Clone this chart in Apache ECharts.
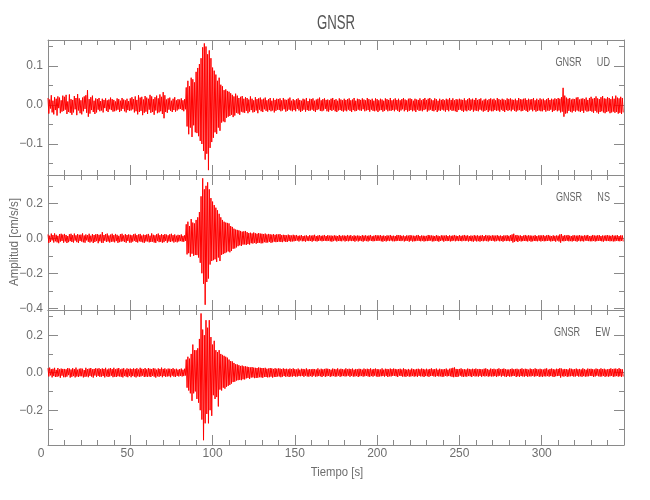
<!DOCTYPE html>
<html><head><meta charset="utf-8">
<script src="https://cdn.jsdelivr.net/npm/echarts@6/dist/echarts.min.js"></script>
<style>html,body{margin:0;padding:0;background:#fff}#c{width:650px;height:500px}</style>
</head><body><div id="c"></div><script>
// sample times: two values per second, starting at 0 s
const timeStart = 0, timeStep = 0.5;
// amplitudes in units of 0.001 cm/s/s (one row = 10 s)
const udMilli = [
18,-22,14,-9,25,-19,11,-24,20,-13,16,-27,22,-8,19,-21,12,-17,24,-15,
21,-12,26,-23,9,-18,27,-20,15,-25,13,-19,23,-11,18,-26,28,-14,17,-21,
12,-24,19,-16,22,-10,25,-20,38,-30,15,-22,20,-13,24,-18,11,-23,17,-19,
15,-12,18,-16,10,-14,16,-19,13,-8,17,-15,12,-18,14,-11,19,-13,15,-17,
13,-16,9,-14,17,-12,15,-18,11,-15,18,-10,14,-16,12,-19,16,-13,10,-15,
17,-14,20,-11,15,-19,22,-16,13,-24,25,-18,19,-15,21,-26,14,-20,23,-17,
19,-23,16,-12,26,-20,22,-18,15,-25,20,-14,24,-21,17,-19,27,-16,21,-23,
33,-34,25,-18,14,-20,17,-12,19,-15,11,-18,16,-13,20,-17,12,-14,15,-11,
14,-10,17,-13,12,-16,15,-11,45,-55,62,-75,48,-58,70,-82,66,-52,58,-70,
85,-72,95,-80,105,-92,120,-100,148,-118,158,-140,150,-125,130,-167,140,-110,120,-95,
96,-84,88,-70,78,-74,62,-58,70,-66,52,-45,48,-42,38,-44,40,-33,36,-30,
34,-28,30,-25,26,-31,22,-27,29,-20,24,-22,18,-25,21,-17,23,-19,16,-20,
20,-15,18,-21,14,-17,22,-13,16,-19,12,-18,20,-14,15,-21,17,-12,19,-16,
14,-18,16,-11,19,-15,12,-17,15,-13,18,-16,11,-14,17,-19,13,-15,16,-12,
15,-13,17,-16,12,-14,18,-11,14,-17,13,-15,16,-12,19,-14,11,-16,15,-13,
12,-16,15,-10,17,-14,13,-18,11,-15,16,-12,14,-17,18,-13,10,-15,16,-14,
15,-12,17,-15,11,-18,14,-13,16,-11,19,-15,12,-16,15,-14,17,-10,13,-16,
14,-17,12,-13,16,-15,18,-12,13,-16,15,-18,11,-14,17,-13,14,-15,12,-17,
16,-14,13,-16,15,-12,17,-15,12,-18,14,-13,18,-16,11,-15,16,-12,15,-14,
13,-15,17,-11,14,-16,12,-14,18,-13,15,-17,13,-12,16,-15,11,-16,17,-14,
15,-18,12,-14,16,-13,14,-17,11,-15,17,-12,15,-16,13,-14,18,-15,12,-13,
14,-16,17,-12,13,-15,16,-18,12,-14,15,-11,18,-16,14,-13,12,-17,16,-15,
17,-13,15,-16,11,-14,16,-18,14,-12,13,-15,17,-14,12,-16,15,-13,18,-11,
13,-17,16,-14,18,-12,14,-15,12,-16,17,-13,15,-18,11,-14,16,-15,13,-12,
15,-14,12,-17,16,-13,14,-16,18,-12,13,-15,17,-14,12,-16,15,-18,14,-13,
16,-12,14,-15,13,-18,17,-14,12,-16,15,-13,18,-15,14,-12,16,-17,13,-14,
18,-15,13,-16,15,-12,17,-14,11,-17,14,-15,16,-13,12,-18,15,-14,17,-16,
14,-16,16,-13,12,-15,18,-14,15,-17,13,-12,16,-15,14,-18,12,-13,17,-15,
15,-13,17,-16,14,-12,13,-15,16,-17,12,-14,18,-13,15,-16,14,-15,16,-12,
17,-15,13,-18,16,-14,14,-12,15,-16,18,-13,12,-17,16,-15,13,-14,17,-16,
14,-16,16,-13,12,-17,15,-14,18,-15,13,-12,16,-18,14,-15,17,-13,15,-16,
18,-14,16,-19,20,-17,44,-30,24,-22,19,-21,16,-15,18,-17,14,-19,16,-15,
15,-17,19,-14,20,-16,14,-18,16,-15,17,-20,15,-14,19,-17,13,-16,18,-15,
21,-17,16,-20,18,-15,22,-19,17,-22,15,-18,20,-16,23,-19,17,-21,16,-18,
20,-16,18,-21,15,-19,22,-17,16,-20,24,-18,19,-22,17,-20,21,-23,18,-19];
const nsMilli = [
22,-26,15,-21,27,-12,19,-24,28,-17,20,-23,14,-28,24,-19,26,-15,21,-25,
25,-18,19,-27,13,-22,23,-16,26,-21,18,-24,27,-13,17,-22,24,-26,20,-15,
21,-19,28,-23,16,-25,22,-12,18,-20,26,-24,15,-18,24,-27,19,-21,23,-16,
24,-28,20,-17,22,-25,35,-26,19,-14,24,-21,27,-18,16,-24,21,-20,26,-19,
18,-23,25,-16,20,-26,14,-22,23,-19,26,-17,17,-21,24,-25,19,-15,22,-24,
20,-25,17,-19,23,-14,26,-21,18,-24,22,-17,25,-20,16,-23,21,-26,19,-18,
22,-18,25,-23,15,-21,28,-19,20,-24,17,-26,23,-16,27,-22,18,-20,24,-25,
19,-22,24,-15,21,-25,17,-18,23,-21,26,-17,18,-24,22,-19,15,-23,20,-18,
18,-16,22,-19,14,-20,17,-15,80,-92,95,-85,70,-105,110,-88,90,-100,85,-95,
105,-96,120,-110,150,-140,240,-200,343,-260,280,-380,300,-250,320,-230,280,-150,230,-130,
210,-125,190,-120,175,-135,160,-110,140,-130,120,-95,105,-90,95,-85,90,-80,88,-75,
85,-80,70,-72,65,-60,55,-58,50,-52,48,-45,45,-40,42,-44,38,-36,40,-35,
42,-38,35,-33,30,-36,32,-28,28,-30,33,-26,29,-31,26,-27,30,-25,27,-29,
26,-28,24,-22,27,-25,22,-24,25,-20,23,-26,21,-23,24,-19,20,-22,23,-21,
22,-19,24,-21,18,-22,20,-17,19,-21,17,-20,21,-16,18,-19,16,-18,20,-17,
17,-15,19,-13,14,-18,16,-12,18,-17,13,-16,15,-19,17,-14,12,-16,18,-15,
15,-19,17,-14,20,-16,13,-18,16,-15,18,-13,14,-17,16,-15,19,-14,13,-16,
18,-14,15,-17,16,-19,14,-16,17,-13,15,-18,13,-15,19,-16,14,-17,16,-12,
16,-18,14,-15,19,-17,15,-14,18,-16,12,-15,17,-19,14,-13,16,-18,15,-14,
13,-16,18,-19,15,-14,17,-16,14,-18,16,-13,19,-15,12,-17,15,-16,18,-14,
17,-15,16,-13,18,-17,14,-19,16,-15,13,-18,17,-14,15,-16,19,-13,14,-17,
15,-17,13,-16,19,-14,17,-15,18,-16,14,-13,16,-18,12,-15,17,-14,15,-19,
18,-14,16,-18,15,-17,14,-16,17,-13,19,-15,13,-17,16,-14,15,-18,14,-16,
14,-16,19,-15,17,-13,16,-18,15,-17,13,-14,18,-16,15,-19,12,-15,17,-13,
16,-19,15,-14,18,-16,13,-15,17,-18,14,-16,16,-13,19,-17,15,-14,13,-16,
18,-15,14,-17,16,-13,19,-16,15,-14,17,-18,13,-15,16,-17,14,-19,18,-14,
15,-18,17,-16,14,-19,16,-15,18,-17,13,-14,19,-16,15,-18,17,-13,14,-15,
17,-14,16,-18,15,-16,18,-13,14,-17,16,-15,13,-19,17,-14,15,-16,18,-15,
14,-17,18,-15,22,-24,26,-20,17,-16,19,-21,15,-14,17,-18,13,-16,16,-15,
19,-16,15,-18,17,-14,16,-19,15,-17,14,-15,18,-16,13,-17,16,-14,17,-18,
16,-15,18,-17,14,-16,17,-15,19,-14,15,-18,13,-16,17,-15,14,-19,16,-13,
15,-18,22,-25,24,-16,14,-17,18,-15,16,-14,19,-17,15,-16,13,-18,17,-15,
17,-16,15,-19,16,-14,18,-17,15,-16,14,-18,17,-13,16,-15,19,-16,13,-17,
14,-17,19,-15,16,-18,15,-16,17,-14,18,-15,13,-17,16,-19,15,-14,17,-16,
18,-15,16,-17,14,-16,19,-18,15,-17,16,-14,18,-16,13,-17,17,-15,16,-18];
const ewMilli = [
24,-20,27,-14,19,-25,21,-18,26,-23,15,-22,25,-19,18,-27,22,-16,20,-24,
20,-24,18,-21,25,-13,22,-26,17,-22,24,-18,19,-25,27,-20,16,-23,21,-19,
23,-19,21,-25,14,-22,26,-20,19,-24,22,-17,25,-21,18,-26,20,-15,24,-22,
21,-17,24,-22,19,-21,23,-18,20,-25,26,-19,17,-23,22,-20,25,-16,19,-24,
26,-21,18,-23,22,-19,25,-20,17,-22,21,-25,24,-18,16,-21,23,-24,20,-17,
22,-24,19,-18,23,-21,20,-25,24,-19,17,-22,26,-20,21,-16,19,-23,25,-21,
18,-22,25,-20,21,-23,19,-17,24,-21,22,-26,16,-19,23,-22,20,-18,27,-24,
20,-18,23,-22,17,-20,22,-19,21,-24,19,-16,24,-21,18,-23,21,-17,16,-20,
19,-17,22,-20,16,-18,21,-15,70,-80,85,-95,75,-110,100,-150,150,-110,120,-100,
120,-140,130,-160,180,-200,316,-250,230,-360,200,-270,280,-220,240,-270,280,-200,190,-230,
150,-120,170,-140,120,-130,110,-180,120,-90,100,-95,95,-80,90,-85,85,-75,80,-70,
70,-65,62,-58,60,-50,52,-48,45,-42,44,-40,40,-38,36,-40,38,-35,34,-36,
34,-30,32,-28,30,-33,28,-26,30,-25,27,-29,26,-28,25,-27,28,-24,26,-25,
25,-27,24,-22,26,-23,21,-25,22,-24,25,-21,23,-26,20,-22,24,-23,21,-20,
23,-20,22,-24,19,-21,23,-18,20,-22,21,-19,18,-23,22,-20,19,-21,23,-18,
19,-21,17,-20,22,-18,16,-19,21,-17,20,-22,18,-16,23,-20,17,-21,19,-18,
18,-22,20,-16,19,-21,17,-20,23,-18,16,-19,21,-23,18,-17,20,-22,22,-19,
21,-17,19,-22,16,-19,22,-18,20,-21,18,-20,23,-16,17,-22,21,-19,19,-18,
17,-20,23,-19,18,-16,21,-22,19,-17,22,-21,16,-20,20,-18,18,-23,21,-19,
20,-18,16,-21,22,-19,18,-17,21,-20,19,-22,23,-18,17,-21,20,-16,22,-20,
19,-22,18,-20,17,-19,23,-18,16,-21,21,-17,20,-23,18,-19,22,-20,19,-17,
22,-17,20,-19,18,-23,19,-16,21,-18,17,-21,23,-20,19,-22,16,-18,20,-21,
16,-20,22,-18,19,-21,17,-19,20,-22,21,-17,18,-20,22,-19,20,-23,17,-18,
21,-19,17,-22,20,-18,23,-17,18,-20,19,-21,22,-18,16,-20,21,-19,18,-22,
18,-21,19,-17,22,-20,16,-18,21,-19,23,-22,26,-24,28,-21,20,-23,19,-20,
20,-16,23,-21,18,-22,19,-20,17,-21,22,-18,20,-19,18,-23,21,-17,19,-20,
22,-19,18,-21,20,-17,19,-22,17,-18,21,-20,23,-18,19,-21,16,-19,22,-20,
19,-20,21,-18,17,-22,20,-19,23,-16,18,-21,20,-17,22,-20,19,-23,17,-18,
17,-21,19,-20,22,-18,18,-17,20,-23,21,-19,17,-22,20,-18,23,-20,18,-21,
21,-18,20,-22,16,-19,22,-20,19,-17,18,-21,23,-19,20,-17,17,-22,21,-20,
18,-22,17,-19,21,-20,23,-18,16,-21,20,-18,22,-20,19,-23,17,-19,21,-18,
20,-17,24,-26,22,-19,18,-21,20,-18,19,-22,17,-20,23,-19,21,-18,18,-21,
19,-20,22,-17,18,-21,20,-19,17,-22,23,-18,19,-21,16,-20,22,-19,20,-17,
21,-18,19,-23,17,-20,22,-16,20,-19,18,-21,23,-20,19,-17,21,-22,17,-19,
18,-21,20,-19,23,-17,19,-22,21,-20,22,-18,19,-21,24,-19,20,-22,18,-20];
const traces = [udMilli, nsMilli, ewMilli];
const stationName = 'GNSR';
const componentNames = ['UD', 'NS', 'EW'];
const xAxisTitle = 'Tiempo [s]';
const yAxisTitle = 'Amplitud [cm/s/s]';
const xTickLabels = [0, 50, 100, 150, 200, 250, 300];
const yMajorTicks = [[-0.1, 0, 0.1], [-0.4, -0.2, 0, 0.2], [-0.2, 0, 0.2]];
const yMinorTicks = [[-0.15, -0.05, 0.05, 0.15], [-0.3, -0.1, 0.1, 0.3], [-0.3, -0.1, 0.1, 0.3]];
const yExtents = [[-0.1795, 0.1667], [-0.41, 0.362], [-0.3856, 0.3344]];
const xExtent = [0, 350];

const FONT = "'Liberation Sans',Arial,sans-serif";
const AX = '#8a8a8a', TX = '#6e6e6e';
const grids = [], xAxes = [], yAxes = [], series = [];
const panelTops = [40, 175, 310];
panelTops.forEach((top, i) => {
  grids.push({left: 48, right: 26, top: top, height: 135, outerBoundsMode: 'none', containLabel: false});
  ['bottom', 'top'].forEach(pos => {
    const showLab = (i === 2 && pos === 'bottom');
    xAxes.push({
      type: 'value', gridIndex: i, position: pos, min: xExtent[0], max: xExtent[1], interval: 50,
      axisLine: {show: true, onZero: false, lineStyle: {color: AX, width: 1}},
      axisTick: {show: true, inside: true, length: 10, lineStyle: {color: AX}},
      minorTick: {show: true, splitNumber: 5, length: 5, lineStyle: {color: AX}},
      splitLine: {show: false}, minorSplitLine: {show: false},
      axisLabel: {show: showLab, customValues: xTickLabels, margin: 3, color: TX, fontSize: 12, fontFamily: FONT,
        formatter: v => v === 0 ? '{z|0}' : (v === 50 ? '{f|50}' : String(v)),
        rich: {z: {padding: [0, 14, 0, 0], color: TX, fontSize: 12, fontFamily: FONT},
               f: {padding: [0, 6, 0, 0], color: TX, fontSize: 12, fontFamily: FONT}}}
    });
  });
  ['left', 'right'].forEach(pos => {
    yAxes.push({
      type: 'value', gridIndex: i, position: pos, min: yExtents[i][0], max: yExtents[i][1],
      axisLine: {show: true, onZero: false, lineStyle: {color: AX, width: 1}},
      axisTick: {show: true, inside: true, length: 10, customValues: yMajorTicks[i], lineStyle: {color: AX}},
      splitLine: {show: false},
      axisLabel: {show: pos === 'left', customValues: yMajorTicks[i], margin: 5, color: TX, fontSize: 12, fontFamily: FONT,
        formatter: v => (v < 0 ? '\u2212' : '') + Math.abs(v).toFixed(1)}
    });
    yAxes.push({
      type: 'value', gridIndex: i, position: pos, min: yExtents[i][0], max: yExtents[i][1],
      axisLine: {show: false, onZero: false},
      axisTick: {show: true, inside: true, length: 5, customValues: yMinorTicks[i], lineStyle: {color: AX}},
      splitLine: {show: false}, axisLabel: {show: false}
    });
  });
  series.push({
    type: 'line', xAxisIndex: i * 2, yAxisIndex: i * 4, showSymbol: false, symbol: 'none',
    lineStyle: {color: '#ff0000', width: 1}, silent: true, clip: true,
    data: traces[i].map((v, k) => [timeStart + k * timeStep, v / 1000])
  });
});

const graphics = [
  {type: 'text', x: 336, y: 23, scaleX: 0.66, style: {text: stationName, textAlign: 'center', textVerticalAlign: 'middle', fill: '#555', font: '20px ' + FONT}},
  {type: 'text', x: 337, y: 472, scaleX: 0.87, style: {text: xAxisTitle, textAlign: 'center', textVerticalAlign: 'middle', fill: TX, font: '13px ' + FONT}},
  {type: 'text', x: 14, y: 242, rotation: Math.PI / 2, scaleX: 0.89, style: {text: yAxisTitle, textAlign: 'center', textVerticalAlign: 'middle', fill: TX, font: '13px ' + FONT}}
];
componentNames.forEach((c, i) => {
  graphics.push({type: 'text', x: 610, y: panelTops[i] + 22, scaleX: 0.7, originX: 0, style: {text: stationName + '      ' + c, textAlign: 'right', textVerticalAlign: 'middle', fill: '#666', font: '13px ' + FONT}});
});

const chart = echarts.init(document.getElementById('c'), null, {renderer: 'canvas'});
chart.setOption({
  animation: false, backgroundColor: '#fff',
  grid: grids, xAxis: xAxes, yAxis: yAxes, series: series, graphic: graphics
});
</script></body></html>
